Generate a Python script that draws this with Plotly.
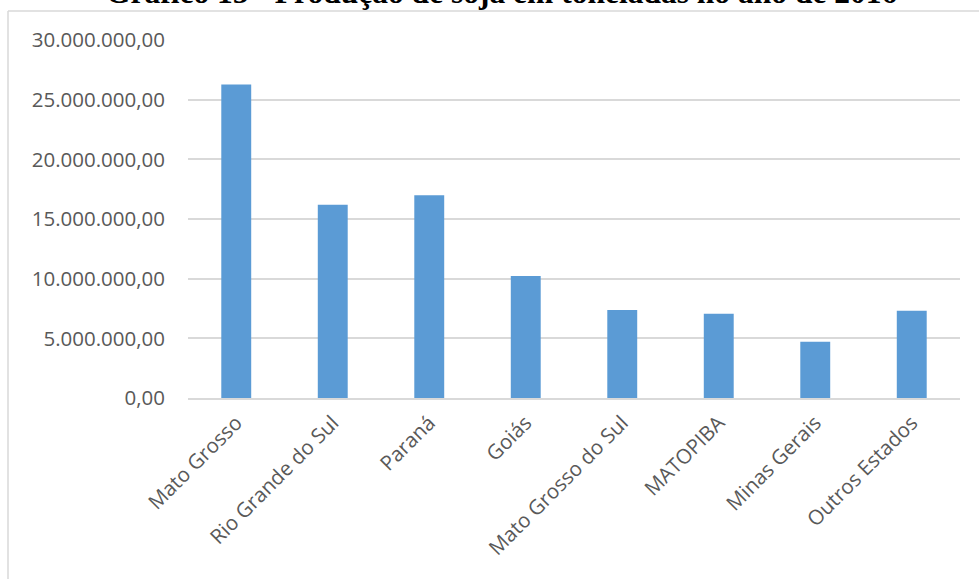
import plotly.graph_objects as go

# Soybean production by state / region (tonnes), 2016
estados = [
    "Mato Grosso",
    "Rio Grande do Sul",
    "Paraná",
    "Goiás",
    "Mato Grosso do Sul",
    "MATOPIBA",
    "Minas Gerais",
    "Outros Estados",
]
producao_t = [26_280_000, 16_200_000, 17_000_000, 10_230_000,
              7_370_000, 7_060_000, 4_710_000, 7_310_000]

y_ticks = [0, 5_000_000, 10_000_000, 15_000_000, 20_000_000, 25_000_000, 30_000_000]
y_tick_labels = ["0,00", "5.000.000,00", "10.000.000,00", "15.000.000,00",
                 "20.000.000,00", "25.000.000,00", "30.000.000,00"]

titulo = "Gráfico 15 - Produção de soja em toneladas no ano de 2016"

W, H = 979, 579
L, R, T, B = 188, 19, 40, 181
pw, ph = W - L - R, H - T - B


def px_x(x):
    return (x - L) / pw


def px_y(y):
    return (H - B - y) / ph


label_font = dict(family="'Open Sans', sans-serif", size=20.5, color="#595959")
grid = "#d9d9d9"

fig = go.Figure(
    go.Bar(
        x=estados,
        y=producao_t,
        marker=dict(color="#5b9bd5", line=dict(width=0)),
        width=0.31,
    )
)

fig.update_layout(
    width=W,
    height=H,
    margin=dict(l=L, r=R, t=T, b=B, pad=0),
    paper_bgcolor="white",
    plot_bgcolor="white",
    showlegend=False,
    xaxis=dict(
        tickangle=-45,
        tickfont=label_font,
        showgrid=False,
        showline=True,
        linecolor=grid,
        linewidth=1.5,
        ticks="",
        ticklabelstandoff=3,
    ),
    yaxis=dict(
        range=[0, 30_000_000],
        tickvals=y_ticks,
        ticktext=y_tick_labels,
        tickfont=label_font,
        showgrid=True,
        gridcolor=grid,
        gridwidth=1.5,
        zeroline=False,
        showline=False,
        ticks="",
        ticklabelstandoff=22,
    ),
    shapes=[
        # chart area frame (top and left edges)
        dict(type="line", xref="paper", yref="paper",
             x0=px_x(8), x1=px_x(W + 5), y0=px_y(11), y1=px_y(11),
             line=dict(color=grid, width=1.5)),
        dict(type="line", xref="paper", yref="paper",
             x0=px_x(8), x1=px_x(8), y0=px_y(11), y1=px_y(H + 5),
             line=dict(color=grid, width=1.5)),
    ],
    annotations=[
        dict(
            text=f"<b>{titulo}</b>",
            xref="paper", yref="paper",
            x=px_x(501), y=px_y(12),
            xanchor="center", yanchor="bottom",
            showarrow=False,
            font=dict(family="'Liberation Serif', 'Times New Roman', serif",
                      size=31.5, color="black"),
        )
    ],
)

fig.write_html("out.html")
